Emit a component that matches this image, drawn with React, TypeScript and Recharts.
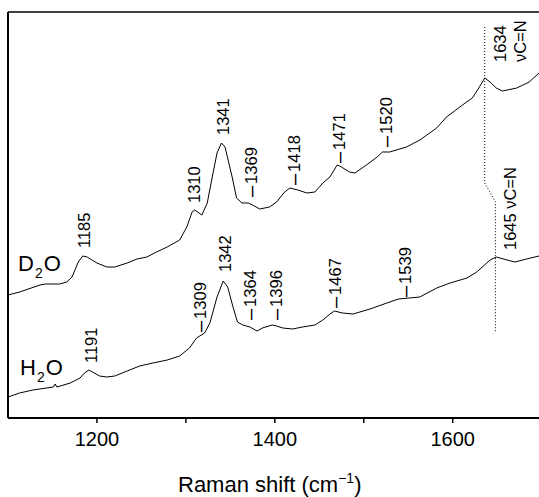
import React from 'react';
import { ComposedChart, Line, XAxis, YAxis, Scatter } from 'recharts';

const FONT = '"Liberation Sans", Arial, Helvetica, sans-serif';

// D2O spectrum (Raman shift, intensity in arbitrary units)
const d2oShift = [1100, 1113, 1136, 1142, 1158, 1166, 1172, 1179, 1184, 1189, 1200, 1211, 1220, 1234, 1245, 1256, 1267, 1279, 1293, 1301, 1307, 1310, 1318, 1324, 1329, 1335, 1340, 1344, 1352, 1357, 1363, 1370, 1375, 1383, 1394, 1402, 1411, 1417, 1426, 1436, 1445, 1454, 1462, 1470, 1473, 1484, 1490, 1503, 1515, 1521, 1529, 1548, 1563, 1582, 1593, 1611, 1622, 1630, 1636, 1642, 1649, 1656, 1672, 1686, 1697];
const d2oCounts = [123, 126, 133, 134, 134, 136, 141, 156, 162, 161, 155, 151, 151, 155, 159, 161, 166, 171, 178, 191, 206, 208, 203, 215, 238, 265, 275, 271, 241, 220, 215, 215, 213, 209, 211, 216, 226, 230, 228, 225, 226, 235, 241, 253, 252, 246, 245, 253, 261, 266, 266, 271, 278, 290, 301, 313, 320, 331, 340, 336, 330, 327, 330, 336, 345];

// H2O spectrum
const h2oShift = [1100, 1113, 1128, 1151, 1153, 1155, 1170, 1181, 1186, 1191, 1195, 1203, 1211, 1220, 1234, 1248, 1263, 1279, 1293, 1304, 1312, 1321, 1327, 1335, 1342, 1347, 1353, 1358, 1364, 1372, 1380, 1386, 1397, 1402, 1409, 1420, 1431, 1445, 1454, 1462, 1467, 1476, 1488, 1507, 1526, 1539, 1563, 1582, 1597, 1616, 1627, 1642, 1649, 1661, 1670, 1683, 1697];
const h2oCounts = [21, 25, 28, 31, 34, 31, 35, 40, 45, 48, 46, 42, 41, 42, 47, 52, 55, 58, 62, 70, 80, 85, 95, 121, 137, 131, 111, 96, 93, 91, 87, 90, 93, 92, 90, 89, 91, 93, 98, 104, 107, 105, 104, 109, 115, 119, 121, 130, 135, 140, 146, 158, 161, 158, 156, 159, 162];

// dotted guide joining the C=N bands
const guideShift = [1636, 1636, 1648, 1648];
const guideLevel = [391, 235, 216, 86];

// peak annotations: position of label foot, text
const peakShift = [1185, 1309, 1342, 1373, 1421, 1472, 1525, 1193, 1316, 1344, 1372, 1401, 1468, 1546, 1664];
const peakLevel = [170, 215, 283, 221, 233, 255, 271, 55, 86, 146, 98, 98, 110, 121, 168];
const peakText = ['1185', '1310', '1341', '–1369', '–1418', '–1471', '–1520', '1191', '–1309', '1342', '–1364', '–1396', '–1467', '–1539', '1645 νC=N'];

const xTicks = [1200, 1300, 1400, 1500, 1600];
const yTicks = [19, 48, 68, 96, 116, 145, 164, 193, 213, 241, 261, 290, 309, 339, 358, 387];

const d2o = d2oShift.map((x, i) => ({ x, y: d2oCounts[i] }));
const h2o = h2oShift.map((x, i) => ({ x, y: h2oCounts[i] }));
const guide = guideShift.map((x, i) => ({ x, y: guideLevel[i] }));
const peaks = peakShift.map((x, i) => ({ x, y: peakLevel[i], text: peakText[i] }));
const cnTop = [{ x: 1653, y: 356, text: '1634', text2: 'νC=N' }];

const PeakLabel = (props: any) => {
  const { cx, cy, payload } = props;
  const txt: string = payload.text;
  const dashed = txt.startsWith('–');
  return (
    <text
      x={cx}
      y={cy}
      transform={`rotate(-90 ${cx} ${cy})`}
      fontFamily={FONT}
      fontSize={16.5}
      fill="#000"
      textAnchor="start"
      dominantBaseline="central"
    >
      {dashed && <tspan fontSize={20}>–</tspan>}
      {dashed && <tspan dx={2}>{txt.slice(1)}</tspan>}
      {!dashed && txt}
      {payload.text2 && (
        <tspan x={cx} dy="1.25em">{payload.text2}</tspan>
      )}
    </text>
  );
};

const Species = ({ main, top, left }: { main: string; top: number; left: number }) => (
  <div style={{ position: 'absolute', left, top, fontFamily: FONT, fontSize: 22, lineHeight: 1, color: '#000' }}>
    {main}
    <span style={{ fontSize: 14, position: 'relative', top: 7, margin: '0 1px' }}>2</span>
    O
  </div>
);

export default function App() {
  return (
    <div style={{ position: 'fixed', left: 0, top: 0, width: 539, height: 497, background: '#fff' }}>
      <ComposedChart width={539} height={497} margin={{ top: 12, right: 0, bottom: 49, left: 8 }}>
        <XAxis
          dataKey="x"
          type="number"
          domain={[1100, 1697]}
          allowDataOverflow
          ticks={xTicks}
          tickFormatter={(v: number) => (v % 200 === 0 ? String(v) : '')}
          height={30}
          tickSize={5}
          tickMargin={9}
          axisLine={{ stroke: '#000', strokeWidth: 2 }}
          tickLine={{ stroke: '#000', strokeWidth: 1.5 }}
          tick={{ fill: '#000', fontSize: 20, fontFamily: FONT }}
        />
        <XAxis
          xAxisId="top"
          dataKey="x"
          type="number"
          orientation="top"
          mirror
          domain={[1100, 1697]}
          ticks={xTicks}
          tick={false}
          tickSize={4}
          axisLine={{ stroke: '#000', strokeWidth: 1.5 }}
          tickLine={{ stroke: '#000', strokeWidth: 1 }}
        />
        <YAxis
          type="number"
          domain={[0, 406]}
          allowDataOverflow
          ticks={yTicks}
          mirror
          tick={false}
          tickSize={4}
          axisLine={{ stroke: '#000', strokeWidth: 2 }}
          tickLine={{ stroke: '#000', strokeWidth: 1 }}
        />
        <Line data={d2o} dataKey="y" stroke="#000" strokeWidth={1} dot={false} isAnimationActive={false} />
        <Line data={h2o} dataKey="y" stroke="#000" strokeWidth={1} dot={false} isAnimationActive={false} />
        <Line data={guide} dataKey="y" stroke="#000" strokeWidth={1} strokeDasharray="1 2" dot={false} isAnimationActive={false} />
        <Scatter data={peaks} dataKey="y" shape={<PeakLabel />} isAnimationActive={false} />
        <Scatter data={cnTop} dataKey="y" shape={<PeakLabel />} isAnimationActive={false} />
      </ComposedChart>
      <Species main="D" left={18} top={253} />
      <Species main="H" left={20} top={357} />
      <div style={{ position: 'absolute', left: 178, top: 474, whiteSpace: 'nowrap', fontFamily: FONT, fontSize: 22, lineHeight: 1, color: '#000' }}>
        Raman shift (cm
        <span style={{ fontSize: 14, position: 'relative', top: -9 }}>−1</span>
        )
      </div>
    </div>
  );
}
